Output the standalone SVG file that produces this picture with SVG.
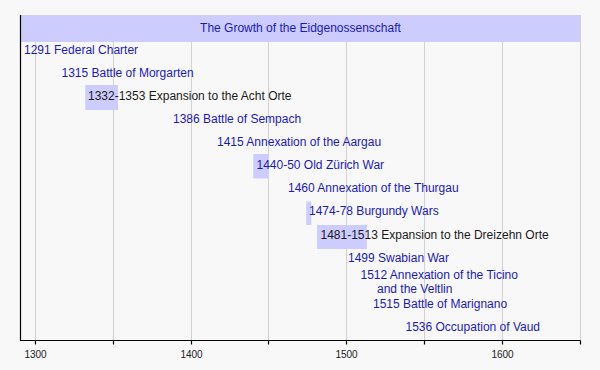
<svg xmlns="http://www.w3.org/2000/svg" width="600" height="370" viewBox="0 0 600 370">
<style>
.grid{stroke:#d2d2d2;stroke-width:1}
.axis{stroke:#000;stroke-width:1.2;fill:none}
.bar{fill:#ccccff}
.ev{font-family:"Liberation Sans",Arial,sans-serif;font-size:12px;fill:#1a1ab8}
.evb{font-family:"Liberation Sans",Arial,sans-serif;font-size:12px;fill:#1a1a1a}
.lbl{font-family:"Liberation Sans",Arial,sans-serif;font-size:10px;fill:#222}
</style>
<rect x="0" y="0" width="600" height="370" fill="#f8f8f8"/>
<g id="grid">
<line class="grid" x1="35.5" y1="15" x2="35.5" y2="340"/>
<line class="grid" x1="113.5" y1="15" x2="113.5" y2="340"/>
<line class="grid" x1="191.5" y1="15" x2="191.5" y2="340"/>
<line class="grid" x1="268.5" y1="15" x2="268.5" y2="340"/>
<line class="grid" x1="346.5" y1="15" x2="346.5" y2="340"/>
<line class="grid" x1="424.5" y1="15" x2="424.5" y2="340"/>
<line class="grid" x1="502.5" y1="15" x2="502.5" y2="340"/>
<line class="grid" x1="580.5" y1="15" x2="580.5" y2="340"/>
</g>
<g id="title">
<rect class="bar" x="20.5" y="15" width="560" height="27"/>
<text x="300.5" y="31.5" text-anchor="middle" class="ev">The Growth of the Eidgenossenschaft</text>
</g>
<g id="axis">
<path class="axis" d="M20.5 15V340.5H580.5"/>
<path class="axis" d="M35.5 340.5v4M113.5 340.5v4M191.5 340.5v4M268.5 340.5v4M346.5 340.5v4M424.5 340.5v4M502.5 340.5v4M580.5 340.5v4"/>
<text class="lbl" x="35.5" y="358" text-anchor="middle">1300</text>
<text class="lbl" x="191.5" y="358" text-anchor="middle">1400</text>
<text class="lbl" x="346.5" y="358" text-anchor="middle">1500</text>
<text class="lbl" x="502.5" y="358" text-anchor="middle">1600</text>
</g>
<g id="ev1291"><text class="ev" x="24" y="54">1291 Federal Charter</text></g>
<g id="ev1315"><text class="ev" x="61.5" y="77">1315 Battle of Morgarten</text></g>
<g id="ev1332"><rect class="bar" x="85.3" y="85" width="32.7" height="25"/><text class="evb" x="88" y="100">1332-1353 Expansion to the Acht Orte</text></g>
<g id="ev1386"><text class="ev" x="173" y="123">1386 Battle of Sempach</text></g>
<g id="ev1415"><text class="ev" x="217" y="146">1415 Annexation of the Aargau</text></g>
<g id="ev1440"><rect class="bar" x="253.3" y="154" width="15.6" height="24.5"/><text class="ev" x="256.5" y="169">1440-50 Old Zürich War</text></g>
<g id="ev1460"><text class="ev" x="288" y="192">1460 Annexation of the Thurgau</text></g>
<g id="ev1474"><rect class="bar" x="306.2" y="201.5" width="5" height="23.5"/><text class="ev" x="309" y="215">1474-78 Burgundy Wars</text></g>
<g id="ev1481"><rect class="bar" x="317.1" y="225" width="49.8" height="24"/><text class="evb" x="320.5" y="239">1481-1513 Expansion to the Dreizehn Orte</text></g>
<g id="ev1499"><text class="ev" x="348" y="262">1499 Swabian War</text></g>
<g id="ev1512"><text class="ev" x="360.5" y="278.5">1512 Annexation of the Ticino</text><text class="ev" x="377" y="292.5">and the Veltlin</text></g>
<g id="ev1515"><text class="ev" x="373" y="308">1515 Battle of Marignano</text></g>
<g id="ev1536"><text class="ev" x="405.5" y="330.5">1536 Occupation of Vaud</text></g>
</svg>
